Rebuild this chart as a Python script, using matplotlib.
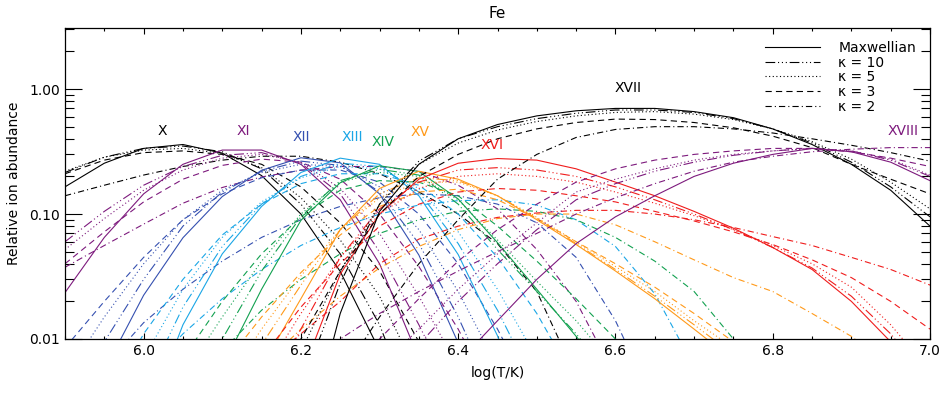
import numpy as np
import matplotlib
matplotlib.use("Agg")
import matplotlib.pyplot as plt
from matplotlib.ticker import MultipleLocator, FixedLocator, FuncFormatter, LogLocator, NullFormatter

N = None
logT = [5.90, 5.95, 6.00, 6.05, 6.10, 6.15, 6.20, 6.25, 6.30, 6.35, 6.40, 6.45,
        6.50, 6.55, 6.60, 6.65, 6.70, 6.75, 6.80, 6.85, 6.90, 6.95, 7.00]

ions = ["X", "XI", "XII", "XIII", "XIV", "XV", "XVI", "XVII", "XVIII"]
dists = ["Maxwellian", "κ = 10", "κ = 5", "κ = 3", "κ = 2"]

fe10_max = [0.165, 0.255, 0.335, 0.36, 0.307, 0.203, 0.1, 0.0347, 0.0081] + [N]*14
fe10_k10 = [0.215, 0.285, 0.335, 0.35, 0.315, 0.23, 0.12, 0.048, 0.013, 0.002] + [N]*13
fe10_k5 = [0.22, 0.285, 0.325, 0.335, 0.305, 0.235, 0.135, 0.062, 0.022, 0.005] + [N]*13
fe10_k3 = [0.21, 0.27, 0.31, 0.32, 0.30, 0.25, 0.165, 0.085, 0.035, 0.0095, 0.002] + [N]*12
fe10_k2 = [0.14, 0.17, 0.205, 0.24, 0.27, 0.29, 0.29, 0.26, 0.21, 0.15, 0.1, 0.058, 0.024, 0.005] + [N]*9

fe11_max = [0.0235, 0.065, 0.145, 0.25, 0.325, 0.325, 0.25, 0.13, 0.04, 0.007] + [N]*13
fe11_k10 = [0.06, 0.105, 0.17, 0.24, 0.295, 0.31, 0.255, 0.145, 0.05, 0.013, 0.003] + [N]*12
fe11_k5 = [0.052, 0.092, 0.155, 0.225, 0.28, 0.3, 0.26, 0.16, 0.07, 0.022, 0.006] + [N]*12
fe11_k3 = [0.04, 0.072, 0.125, 0.19, 0.245, 0.275, 0.26, 0.19, 0.1, 0.038, 0.012, 0.003] + [N]*11
fe11_k2 = [0.0375, 0.056, 0.083, 0.122, 0.163, 0.198, 0.224, 0.24, 0.24, 0.22, 0.17, 0.11, 0.052, 0.02, 0.005] + [N]*8

fe12_max = [N, 0.0056, 0.0224, 0.0646, 0.138, 0.224, 0.282, 0.257, 0.145, 0.047, 0.0093, 0.0012] + [N]*11
fe12_k10 = [0.0025, 0.0095, 0.03, 0.08, 0.15, 0.22, 0.265, 0.245, 0.15, 0.058, 0.015, 0.003] + [N]*11
fe12_k5 = [0.005, 0.015, 0.04, 0.09, 0.155, 0.215, 0.25, 0.24, 0.165, 0.075, 0.024, 0.006] + [N]*11
fe12_k3 = [0.0085, 0.02, 0.045, 0.09, 0.145, 0.195, 0.225, 0.225, 0.18, 0.1, 0.04, 0.012, 0.003] + [N]*10
fe12_k2 = [N, 0.006, 0.0135, 0.025, 0.042, 0.065, 0.09, 0.115, 0.135, 0.145, 0.14, 0.12, 0.085, 0.045, 0.014, 0.003] + [N]*7

fe13_max = [N, N, 0.002, 0.013, 0.048, 0.115, 0.215, 0.28, 0.25, 0.14, 0.0474, 0.0106, 0.0015] + [N]*10
fe13_k10 = [N, N, 0.004, 0.018, 0.055, 0.12, 0.2, 0.255, 0.24, 0.15, 0.058, 0.017, 0.004] + [N]*10
fe13_k5 = [N, 0.002, 0.007, 0.025, 0.065, 0.125, 0.195, 0.24, 0.23, 0.16, 0.072, 0.025, 0.007, 0.0015] + [N]*9
fe13_k3 = [N, 0.003, 0.011, 0.03, 0.068, 0.12, 0.175, 0.21, 0.21, 0.17, 0.1, 0.045, 0.016, 0.0045] + [N]*9
fe13_k2 = [N, N, 0.005, 0.011, 0.021, 0.036, 0.056, 0.078, 0.1, 0.118, 0.128, 0.13, 0.118, 0.09, 0.055, 0.023, 0.006] + [N]*6

fe14_max = [N, N, N, N, 0.006, 0.025, 0.089, 0.178, 0.243, 0.219, 0.132, 0.059, 0.025, 0.0105, 0.0043] + [N]*8
fe14_k10 = [N, N, N, 0.003, 0.01, 0.035, 0.095, 0.185, 0.228, 0.205, 0.12, 0.052, 0.024, 0.011, 0.0045] + [N]*8
fe14_k5 = [N, N, N, 0.005, 0.015, 0.042, 0.1, 0.18, 0.215, 0.2, 0.13, 0.062, 0.029, 0.014, 0.006] + [N]*8
fe14_k3 = [N, N, 0.002, 0.007, 0.02, 0.048, 0.095, 0.155, 0.185, 0.18, 0.14, 0.08, 0.042, 0.021, 0.01, 0.0045] + [N]*7
fe14_k2 = [N, N, N, 0.003, 0.008, 0.017, 0.03, 0.048, 0.07, 0.09, 0.105, 0.11, 0.105, 0.09, 0.065, 0.042, 0.024, 0.01, 0.004] + [N]*4

fe15_max = [N]*5 + [0.006, 0.021, 0.075, 0.16, 0.22, 0.19, 0.14, 0.09, 0.057, 0.035, 0.021, 0.012, 0.0068] + [N]*5
fe15_k10 = [N]*4 + [0.003, 0.009, 0.027, 0.075, 0.145, 0.195, 0.185, 0.14, 0.092, 0.058, 0.036, 0.022, 0.013, 0.0075] + [N]*5
fe15_k5 = [N]*4 + [0.004, 0.012, 0.032, 0.075, 0.135, 0.18, 0.18, 0.14, 0.094, 0.06, 0.038, 0.024, 0.014, 0.0085, 0.005] + [N]*4
fe15_k3 = [N]*3 + [0.002, 0.006, 0.015, 0.034, 0.068, 0.115, 0.15, 0.158, 0.13, 0.092, 0.06, 0.04, 0.026, 0.016, 0.0095, 0.005] + [N]*4
fe15_k2 = [N]*4 + [0.003, 0.006, 0.012, 0.022, 0.037, 0.055, 0.075, 0.092, 0.1, 0.1, 0.082, 0.06, 0.043, 0.031, 0.024, 0.016, 0.0105, 0.006] + [N]

fe16_max = [N]*6 + [0.005, 0.033, 0.1, 0.19, 0.255, 0.278, 0.27, 0.23, 0.18, 0.14, 0.105, 0.077, 0.054, 0.036, 0.02, 0.0095, 0.004]
fe16_k10 = [N]*5 + [0.003, 0.012, 0.045, 0.11, 0.18, 0.225, 0.235, 0.225, 0.2, 0.165, 0.13, 0.1, 0.075, 0.054, 0.037, 0.022, 0.011, 0.0045]
fe16_k5 = [N]*4 + [0.0015, 0.005, 0.016, 0.045, 0.1, 0.16, 0.2, 0.21, 0.2, 0.18, 0.15, 0.122, 0.097, 0.075, 0.056, 0.04, 0.026, 0.013, 0.0055]
fe16_k3 = [N]*4 + [0.003, 0.007, 0.018, 0.04, 0.08, 0.12, 0.15, 0.16, 0.155, 0.14, 0.125, 0.105, 0.088, 0.072, 0.057, 0.043, 0.031, 0.02, 0.012]
fe16_k2 = [N]*4 + [0.003, 0.006, 0.011, 0.02, 0.04, 0.063, 0.08, 0.094, 0.102, 0.107, 0.107, 0.1, 0.09, 0.078, 0.066, 0.056, 0.045, 0.036, 0.027]

fe17_max = [N]*6 + [0.001, 0.016, 0.105, 0.25, 0.4, 0.52, 0.61, 0.67, 0.7, 0.7, 0.66, 0.59, 0.48, 0.36, 0.25, 0.155, 0.08]
fe17_k10 = [N]*6 + [0.004, 0.028, 0.12, 0.265, 0.4, 0.5, 0.58, 0.64, 0.68, 0.68, 0.65, 0.58, 0.48, 0.37, 0.26, 0.165, 0.095]
fe17_k5 = [N]*5 + [0.002, 0.008, 0.035, 0.12, 0.25, 0.37, 0.47, 0.55, 0.61, 0.65, 0.66, 0.63, 0.57, 0.48, 0.38, 0.275, 0.18, 0.11]
fe17_k3 = [N]*5 + [0.003, 0.01, 0.035, 0.1, 0.2, 0.3, 0.4, 0.48, 0.54, 0.575, 0.57, 0.54, 0.49, 0.42, 0.34, 0.25, 0.19, 0.145]
fe17_k2 = [N]*7 + [0.005, 0.015, 0.04, 0.09, 0.19, 0.3, 0.41, 0.475, 0.5, 0.5, 0.48, 0.445, 0.4, 0.355, 0.31, 0.265]

fe18_max = [N]*10 + [0.0065, 0.014, 0.03, 0.058, 0.095, 0.14, 0.2, 0.255, 0.3, 0.335, 0.315, 0.26, 0.185]
fe18_k10 = [N]*8 + [0.004, 0.009, 0.02, 0.04, 0.075, 0.13, 0.175, 0.22, 0.26, 0.295, 0.32, 0.335, 0.32, 0.27, 0.2]
fe18_k5 = [N]*8 + [0.006, 0.012, 0.025, 0.048, 0.085, 0.15, 0.19, 0.23, 0.27, 0.3, 0.32, 0.335, 0.32, 0.275, 0.205]
fe18_k3 = [N]*7 + [0.005, 0.01, 0.021, 0.042, 0.075, 0.12, 0.18, 0.23, 0.27, 0.3, 0.32, 0.335, 0.335, 0.315, 0.28, 0.24]
fe18_k2 = [N]*6 + [0.006, 0.01, 0.016, 0.024, 0.035, 0.05, 0.07, 0.1, 0.135, 0.175, 0.22, 0.26, 0.29, 0.315, 0.33, 0.34, 0.34]

curves = [
    [fe10_max, fe10_k10, fe10_k5, fe10_k3, fe10_k2],
    [fe11_max, fe11_k10, fe11_k5, fe11_k3, fe11_k2],
    [fe12_max, fe12_k10, fe12_k5, fe12_k3, fe12_k2],
    [fe13_max, fe13_k10, fe13_k5, fe13_k3, fe13_k2],
    [fe14_max, fe14_k10, fe14_k5, fe14_k3, fe14_k2],
    [fe15_max, fe15_k10, fe15_k5, fe15_k3, fe15_k2],
    [fe16_max, fe16_k10, fe16_k5, fe16_k3, fe16_k2],
    [fe17_max, fe17_k10, fe17_k5, fe17_k3, fe17_k2],
    [fe18_max, fe18_k10, fe18_k5, fe18_k3, fe18_k2],
]

# ---- styling ----
colors = ["#000000", "#7d1a7d", "#3550b0", "#1aa6e6", "#12a150",
          "#ff9a1a", "#f01c1c", "#000000", "#7d1a7d"]
styles = ["-", (0, (7, 2, 0.8, 2, 0.8, 2, 0.8, 2)), (0, (0.8, 1.8)),
          (0, (4.5, 3)), (0, (4.5, 2.2, 0.8, 2.2))]
label_pos = [(6.024, 0.46), (6.127, 0.46), (6.201, 0.41), (6.265, 0.41),
             (6.304, 0.375), (6.351, 0.45), (6.443, 0.355), (6.616, 1.02),
             (6.966, 0.46)]

plt.rcParams["lines.scale_dashes"] = False
plt.rcParams["font.family"] = ["DejaVu Sans"]

fig = plt.figure(figsize=(9.48, 3.95), dpi=100)
ax = fig.add_axes([65 / 948, 1 - 339 / 395, 865 / 948, (339 - 28) / 395])

x = np.array(logT)
for i, ion in enumerate(ions):
    for j in range(5):
        y = np.array([np.nan if v is None else v for v in curves[i][j]], dtype=float)
        ax.plot(x, y, color=colors[i], ls=styles[j], lw=0.8)
    ax.text(label_pos[i][0], label_pos[i][1], ion, color=colors[i],
            ha="center", va="center", fontsize=10)

# legend
handles = []
for j in range(5):
    h, = ax.plot([], [], color="black", ls=styles[j], lw=0.8)
    handles.append(h)
leg = ax.legend(handles, dists, loc="upper right", frameon=False, fontsize=10,
                handlelength=4.0, handletextpad=1.3, labelspacing=0.05,
                borderaxespad=0.3, bbox_to_anchor=(0.995, 0.99))

ax.set_yscale("log")
ax.set_xlim(5.9, 7.0)
ax.set_ylim(0.01, 3.08)

ax.xaxis.set_major_locator(FixedLocator([6.0, 6.2, 6.4, 6.6, 6.8, 7.0]))
ax.xaxis.set_minor_locator(MultipleLocator(0.05))
ax.xaxis.set_major_formatter(FuncFormatter(lambda v, p: "%.1f" % v))
ax.yaxis.set_major_locator(FixedLocator([0.01, 0.1, 1.0]))
ax.yaxis.set_minor_locator(LogLocator(base=10, subs=np.arange(2, 10)))
ax.yaxis.set_major_formatter(FuncFormatter(lambda v, p: "%.2f" % v))
ax.yaxis.set_minor_formatter(NullFormatter())

ax.tick_params(axis="both", which="both", direction="in", top=True, right=True,
               width=0.8, labelsize=10)
ax.tick_params(axis="y", which="major", length=12.5)
ax.tick_params(axis="y", which="minor", length=6.5)
ax.tick_params(axis="x", which="major", length=4.5)
ax.tick_params(axis="x", which="minor", length=2.5)
for s in ax.spines.values():
    s.set_linewidth(0.9)

ax.set_xlabel("log(T/K)", fontsize=10, labelpad=6)
ax.set_ylabel("Relative ion abundance", fontsize=10, labelpad=6)
ax.set_title("Fe", fontsize=11, pad=7)

fig.savefig("out.png", dpi=100)
